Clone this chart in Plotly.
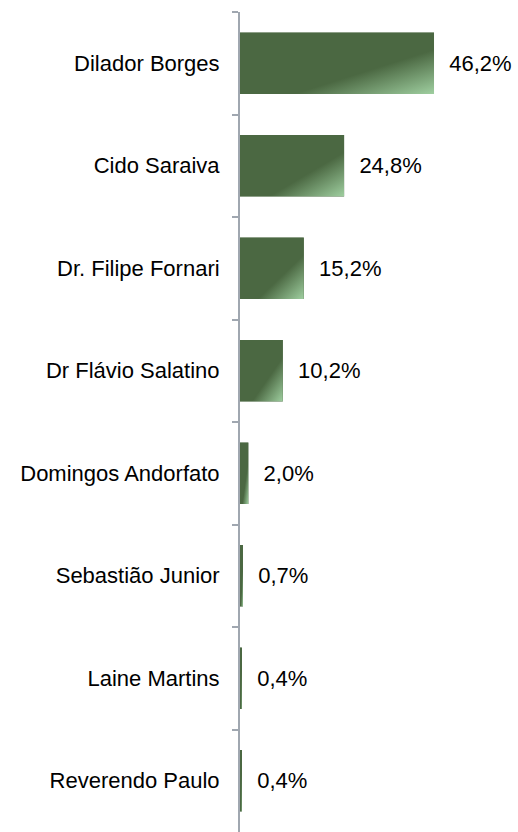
import base64
import plotly.graph_objects as go

categories = ["Dilador Borges", "Cido Saraiva", "Dr. Filipe Fornari", "Dr Flávio Salatino",
              "Domingos Andorfato", "Sebastião Junior", "Laine Martins", "Reverendo Paulo"]
values = [46.2, 24.8, 15.2, 10.2, 2.0, 0.7, 0.4, 0.4]

DARK = "#4b6842"
LIGHT = "#9fcfa0"
BAR_W = 0.6
FONT = "Liberation Sans, Arial"
FSIZE = 22

svg = (
    '<svg xmlns="http://www.w3.org/2000/svg" width="100" height="100" preserveAspectRatio="none" viewBox="0 0 100 100">'
    '<defs><linearGradient id="g" x1="0" y1="0" x2="1" y2="1">'
    f'<stop offset="0" stop-color="{DARK}"/><stop offset="0.64" stop-color="{DARK}"/>'
    f'<stop offset="1" stop-color="{LIGHT}"/></linearGradient></defs>'
    '<rect x="0" y="0" width="100" height="100" fill="url(#g)"/></svg>'
)
src = "data:image/svg+xml;base64," + base64.b64encode(svg.encode()).decode()

labels = ["\u00a0\u00a0" + f"{v:.1f}".replace(".", ",") + "%" for v in values]

fig = go.Figure(go.Bar(
    x=values, y=categories, orientation="h",
    marker=dict(color=DARK, line=dict(width=0)),
    width=BAR_W,
    text=labels, textposition="outside", cliponaxis=False, constraintext="none",
    textfont=dict(family=FONT, size=FSIZE, color="#000000"),
    hoverinfo="skip",
))

images = []
for i, v in enumerate(values):
    images.append(dict(source=src, xref="x", yref="y", x=0, y=i,
                       sizex=v, sizey=BAR_W, sizing="stretch",
                       xanchor="left", yanchor="middle", layer="above"))

fig.update_layout(
    width=518, height=832,
    margin=dict(l=240, r=0, t=12, b=0, autoexpand=False),
    plot_bgcolor="white", paper_bgcolor="white",
    showlegend=False,
    bargap=0.4,
    images=images,
    font=dict(family=FONT, size=FSIZE, color="#000000"),
    xaxis=dict(range=[0, 66.2], visible=False, fixedrange=True, automargin=False),
    yaxis=dict(autorange="reversed", showline=True, linecolor="#a0a7b0", linewidth=2,
               ticks="outside", tickson="boundaries", ticklen=6, tickcolor="#a0a7b0",
               tickwidth=1.5, showgrid=False, ticklabelstandoff=14, automargin=False,
               fixedrange=True,
               tickfont=dict(family=FONT, size=FSIZE, color="#000000")),
)

fig.write_html(
    "out.html",
    config={"displayModeBar": False},
    post_script="document.body.style.margin='0';document.body.style.overflow='hidden';",
)
